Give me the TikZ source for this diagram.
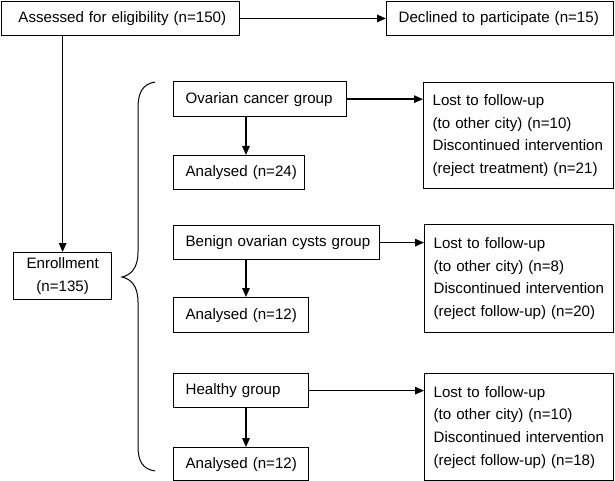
\documentclass[tikz,border=0pt]{standalone}
\usepackage{fontspec}
\setmainfont{Liberation Sans}
\usetikzlibrary{arrows.meta}
\tikzset{
  box/.style={draw, line width=1.3pt, anchor=north west, inner ysep=0pt, align=left,
    font=\fontsize{15.1pt}{22.7pt}\selectfont},
  arr/.style={line width=1.4pt, -{Triangle[length=9pt,width=7.5pt]}},
  brace/.style={line width=1pt}
}
\begin{document}
\begin{tikzpicture}[x=1pt,y=-1pt]
\useasboundingbox (0,0) rectangle (615,481);
\node[box, minimum width=238pt, minimum height=34pt, inner xsep=17pt, text width=204pt] (assess) at (0.8,0.8) {\mbox{Assessed for eligibility (n=150)}};
\node[box, minimum width=227pt, minimum height=34pt, inner xsep=12pt, text width=203pt] (decl) at (386,0.8) {\mbox{Declined to participate (n=15)}};
\node[box, minimum width=98pt, minimum height=47pt, inner xsep=4pt, text width=90pt, align=center] (enroll) at (13,252) {Enrollment\\(n=135)};
\node[box, minimum width=173pt, minimum height=35pt, inner xsep=12pt, text width=149pt] (ov) at (173,81) {\mbox{Ovarian cancer group}};
\node[box, minimum width=131pt, minimum height=34pt, inner xsep=12pt, text width=107pt] (an1) at (173,155) {\mbox{Analysed (n=24)}};
\node[box, minimum width=190pt, minimum height=106pt, inner xsep=9pt, text width=172pt] (lost1) at (423,82) {\mbox{Lost to follow-up}\\\mbox{(to other city) (n=10)}\\\mbox{Discontinued intervention}\\\mbox{(reject treatment) (n=21)}};
\node[box, minimum width=206pt, minimum height=34pt, inner xsep=12pt, text width=182pt] (ben) at (173,225) {\mbox{Benign ovarian cysts group}};
\node[box, minimum width=135pt, minimum height=35pt, inner xsep=12pt, text width=111pt] (an2) at (173,297) {\mbox{Analysed (n=12)}};
\node[box, minimum width=189pt, minimum height=108pt, inner xsep=9pt, text width=171pt] (lost2) at (424,224) {\mbox{Lost to follow-up}\\\mbox{(to other city) (n=8)}\\\mbox{Discontinued intervention}\\\mbox{(reject follow-up) (n=20)}};
\node[box, minimum width=135pt, minimum height=34pt, inner xsep=12pt, text width=111pt] (hea) at (173,373) {\mbox{Healthy group}};
\node[box, minimum width=135pt, minimum height=33pt, inner xsep=12pt, text width=111pt] (an3) at (173,447) {\mbox{Analysed (n=12)}};
\node[box, minimum width=189pt, minimum height=107pt, inner xsep=9pt, text width=171pt] (lost3) at (424,373) {\mbox{Lost to follow-up}\\\mbox{(to other city) (n=10)}\\\mbox{Discontinued intervention}\\\mbox{(reject follow-up) (n=18)}};
% connectors
\draw[arr] (assess.east) -- (decl.west);
\draw[arr] (enroll.north |- assess.south) -- (enroll.north);
\draw[arr] (ov.east) -- (ov.east -| lost1.west);
\draw[arr] ([xshift=73pt]ov.south west) -- ([xshift=73pt]an1.north west);
\draw[arr] (ben.east) -- (ben.east -| lost2.west);
\draw[arr] ([xshift=73pt]ben.south west) -- ([xshift=73pt]an2.north west);
\draw[arr] (hea.east) -- (hea.east -| lost3.west);
\draw[arr] ([xshift=73pt]hea.south west) -- ([xshift=73pt]an3.north west);
% brace
\coordinate (btop) at (155,82);
\coordinate (btip) at (122,277);
\coordinate (bbot) at (155,471);
\draw[brace] (btop) .. controls (143,84) and (138,92) .. (138,108) -- (138,252)
  .. controls (138,268) and (131,275) .. (btip)
  .. controls (131,279) and (138,286) .. (138,302) -- (138,446)
  .. controls (138,462) and (143,469) .. (bbot);
\end{tikzpicture}
\end{document}
